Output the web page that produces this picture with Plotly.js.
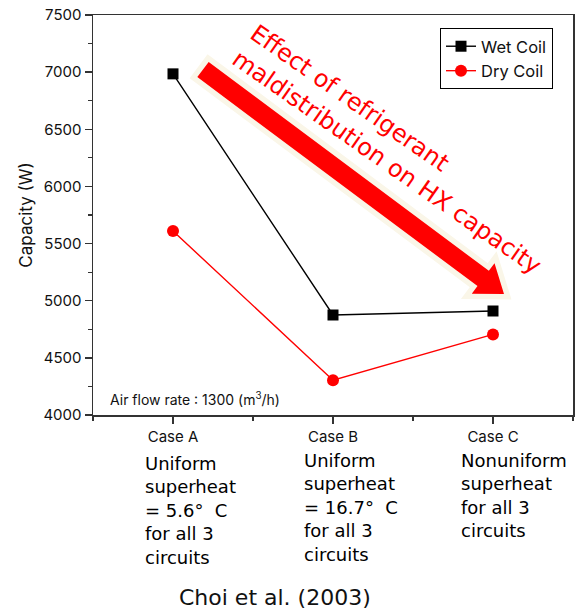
<!DOCTYPE html>
<html>
<head>
<meta charset="utf-8">
<script src="https://cdn.plot.ly/plotly-3.0.1.min.js"></script>
<style>
  html, body { margin: 0; padding: 0; background: #fff; }
  #chart { width: 580px; height: 609px; }
</style>
</head>
<body>
<div id="chart"></div>
<script>
// ---- data ----
const categories = ['Case A', 'Case B', 'Case C'];
const wetCoil = [6985, 4875, 4910];
const dryCoil = [5610, 4305, 4705];
const yTicks = [4000, 4500, 5000, 5500, 6000, 6500, 7000, 7500];
const caseNotes = [
  'Uniform<br>superheat<br>= 5.6°\u00a0\u00a0C<br>for all 3<br>circuits',
  'Uniform<br>superheat<br>= 16.7°\u00a0\u00a0C<br>for all 3<br>circuits',
  'Nonuniform<br>superheat<br>for all 3<br>circuits'
];
const arrowText = 'Effect of refrigerant<br>maldistribution on HX capacity';
const flowText = 'Air flow rate : 1300 (m<sup>3</sup>/h)';
const sourceText = 'Choi et al. (2003)';

// ---- layout helpers ----
const W = 580, H = 609;
const M = {l: 93, r: 7, t: 15, b: 194};
const PW = W - M.l - M.r, PH = H - M.t - M.b;
const px = v => (v - M.l) / PW;
const py = v => (H - M.b - v) / PH;

const xIdx = categories.map((c, i) => i);
const FONT = 'Inter, "Liberation Sans", Arial, sans-serif';
const DJV = '"DejaVu Sans", sans-serif';

// decorative arrow (pixel geometry -> paper)
function arrowPath(tail, tip, w, hw, hl) {
  const dx = tip[0] - tail[0], dy = tip[1] - tail[1];
  const L = Math.hypot(dx, dy);
  const u = [dx / L, dy / L], n = [-u[1], u[0]];
  const B = [tip[0] - hl * u[0], tip[1] - hl * u[1]];
  const pts = [
    [tail[0] + w * n[0], tail[1] + w * n[1]],
    [B[0] + w * n[0], B[1] + w * n[1]],
    [B[0] + hw * n[0], B[1] + hw * n[1]],
    tip,
    [B[0] - hw * n[0], B[1] - hw * n[1]],
    [B[0] - w * n[0], B[1] - w * n[1]],
    [tail[0] - w * n[0], tail[1] - w * n[1]]
  ];
  return 'M' + pts.map(p => px(p[0]).toFixed(5) + ',' + py(p[1]).toFixed(5)).join('L') + 'Z';
}
const arrowD = arrowPath([203, 69.5], [504, 294], 9.5, 19, 26);

const traces = [
  {
    x: xIdx, y: wetCoil, name: 'Wet Coil', type: 'scatter', mode: 'lines+markers',
    line: {color: '#000000', width: 1.4},
    marker: {symbol: 'square', size: 11, color: '#000000'}
  },
  {
    x: xIdx, y: dryCoil, name: 'Dry Coil', type: 'scatter', mode: 'lines+markers',
    line: {color: '#ff0000', width: 1.4},
    marker: {symbol: 'circle', size: 12, color: '#ff0000'}
  }
];

const annotations = [
  {
    xref: 'paper', yref: 'paper', x: px(396), y: py(149),
    text: arrowText, showarrow: false, textangle: 35, align: 'left',
    font: {family: DJV, size: 24, color: '#ff0000'}
  },
  {
    xref: 'paper', yref: 'paper', x: px(108), y: py(399), xanchor: 'left', yanchor: 'middle',
    text: flowText, showarrow: false,
    font: {family: FONT, size: 14, color: '#111111'}
  },
  {
    xref: 'paper', yref: 'paper', x: px(275), y: py(597), xanchor: 'center', yanchor: 'middle',
    text: sourceText, showarrow: false,
    font: {family: DJV, size: 22, color: '#111111'}
  }
];
const noteLeft = [143, 302, 459];
caseNotes.forEach((t, i) => {
  annotations.push({
    xref: 'paper', yref: 'paper', x: px(noteLeft[i]), y: py(i === 0 ? 451 : 448),
    xanchor: 'left', yanchor: 'top', align: 'left',
    text: t, showarrow: false,
    font: {family: DJV, size: 18, color: '#000000'}
  });
});

const layout = {
  width: W, height: H,
  margin: M,
  paper_bgcolor: '#ffffff', plot_bgcolor: '#ffffff',
  showlegend: true,
  legend: {
    x: px(553), y: py(28), xanchor: 'right', yanchor: 'top',
    bordercolor: '#000000', borderwidth: 1, bgcolor: '#ffffff',
    font: {family: FONT, size: 16.5, color: '#111111'},
    tracegroupgap: 0
  },
  xaxis: {
    range: [-0.5, 2.5], tickvals: xIdx, ticktext: categories,
    showgrid: false, zeroline: false,
    showline: true, mirror: true, linecolor: '#333333', linewidth: 1.5,
    ticks: 'outside', ticklen: 7, tickwidth: 1.3, tickcolor: '#333333',
    minor: {tick0: -0.5, dtick: 0.5, ticks: 'outside', ticklen: 4, tickwidth: 1.2, tickcolor: '#333333', showgrid: false},
    tickfont: {family: FONT, size: 15, color: '#111111'}
  },
  yaxis: {
    range: [4000, 7500], tickvals: yTicks,
    showgrid: false, zeroline: false,
    showline: true, mirror: true, linecolor: '#333333', linewidth: 1.5,
    ticks: 'outside', ticklen: 7, tickwidth: 1.3, tickcolor: '#333333',
    minor: {tick0: 4000, dtick: 250, ticks: 'outside', ticklen: 4, tickwidth: 1.2, tickcolor: '#333333', showgrid: false},
    tickfont: {family: FONT, size: 15, color: '#111111'},
    title: {text: 'Capacity (W)', standoff: 6, font: {family: FONT, size: 17, color: '#111111'}}
  },
  shapes: [
    {type: 'path', xref: 'paper', yref: 'paper', path: arrowD, layer: 'above',
     fillcolor: '#faf6e8', line: {color: '#faf6e8', width: 11}},
    {type: 'path', xref: 'paper', yref: 'paper', path: arrowD, layer: 'above',
     fillcolor: '#ff0000', line: {width: 0}}
  ],
  annotations: annotations
};

Plotly.newPlot('chart', traces, layout, {staticPlot: true, displayModeBar: false});
</script>
</body>
</html>
